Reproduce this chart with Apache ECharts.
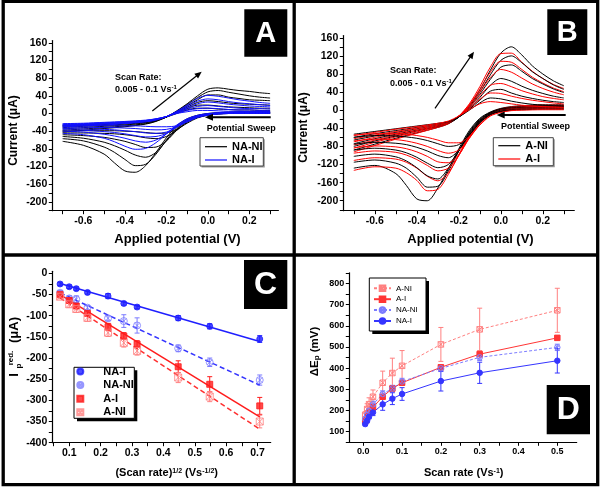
<!DOCTYPE html>
<html><head><meta charset="utf-8">
<script src="https://cdn.jsdelivr.net/npm/echarts@6.0.0/dist/echarts.min.js"></script>
<style>html,body{margin:0;padding:0;background:#fff}#c{width:602px;height:489px}</style>
</head><body><div id="c"></div>
<script>
// ---------- DATA ----------
// CV potentials (V): anodic (upper) branch and cathodic (lower) branch
const potUp   = [-0.7,-0.6,-0.5,-0.4,-0.3,-0.25,-0.2,-0.15,-0.1,-0.05,0,0.05,0.1,0.15,0.2,0.25,0.3];
const potDown = [0.3,0.2,0.1,0.05,0,-0.05,-0.1,-0.15,-0.2,-0.25,-0.3,-0.35,-0.4,-0.45,-0.5,-0.6,-0.7];

// Panel A : NA-NI (black)
const A_NANI_up = [
 [-42,-38,-34,-30,-24,-18,-8,6,22,40,55,58,55,52,50,47,45],
 [-38,-35,-32,-28,-23,-17,-8,5,20,36,49,52,48,44,40,37,35],
 [-35,-32,-29,-26,-21,-16,-8,4,17,31,42,42,37,34,31,30,29],
 [-32,-29,-27,-24,-20,-15,-8,3,14,25,29,27,24,22,21,20,19],
 [-29,-27,-25,-22,-19,-15,-8,2,11,19,19,17,15,14,13,12,12],
 [-27,-25,-23,-21,-18,-14,-8,0,8,12,12,10,9,8,8,7,7]];
const A_NANI_down = [
 [4,4,3,2,0,-4,-12,-28,-55,-88,-118,-133,-130,-112,-92,-72,-63],
 [3,3,2,1,-1,-5,-14,-32,-60,-92,-115,-118,-104,-88,-76,-62,-57],
 [2,2,2,0,-2,-6,-16,-35,-62,-88,-99,-94,-83,-73,-65,-56,-52],
 [1,1,1,0,-3,-8,-18,-38,-62,-76,-77,-70,-63,-58,-54,-50,-48],
 [1,1,0,-1,-3,-9,-20,-38,-52,-57,-55,-51,-48,-46,-45,-44,-44],
 [0,0,0,-1,-4,-10,-22,-36,-44,-45,-43,-41,-40,-39,-39,-39,-40]];
// Panel A : NA-I (blue)
const A_NAI_up = [
 [-30,-28,-26,-23,-19,-15,-7,5,19,34,41,39,35,31,28,25,23],
 [-28,-26,-24,-22,-18,-14,-7,4,16,28,33,31,27,24,22,20,18],
 [-26,-25,-23,-21,-17,-13,-7,3,13,22,26,24,21,19,17,16,15],
 [-25,-24,-22,-20,-16,-13,-7,2,10,16,18,16,14,12,11,11,10],
 [-24,-23,-21,-19,-16,-12,-7,1,7,11,12,11,9,8,8,7,7],
 [-23,-22,-20,-18,-15,-12,-7,0,4,7,7,6,5,5,4,4,4]];
const A_NAI_down = [
 [4,4,3,2,0,-4,-12,-26,-46,-66,-79,-81,-74,-64,-56,-48,-45],
 [3,3,2,1,-1,-5,-13,-28,-46,-60,-65,-62,-56,-51,-47,-42,-40],
 [2,2,2,0,-2,-6,-15,-30,-45,-52,-53,-50,-46,-43,-41,-38,-37],
 [1,1,1,0,-3,-7,-17,-31,-42,-45,-44,-41,-39,-37,-36,-35,-34],
 [1,1,0,-1,-3,-8,-18,-30,-36,-37,-36,-34,-33,-32,-32,-31,-31],
 [0,0,0,-1,-4,-9,-19,-28,-30,-30,-29,-28,-28,-28,-28,-28,-28]];
// Panel B : A-NI (black)
const B_ANI_up = [
 [-88,-75,-62,-50,-38,-30,-15,10,45,88,126,140,122,98,80,65,54],
 [-80,-68,-57,-46,-36,-29,-15,8,40,78,110,120,105,85,70,56,46],
 [-74,-63,-53,-44,-35,-28,-15,6,35,68,95,100,86,70,58,47,39],
 [-66,-57,-49,-41,-33,-27,-15,4,28,55,70,64,53,44,37,31,27],
 [-60,-52,-45,-38,-31,-26,-15,2,22,42,46,38,31,26,22,19,17],
 [-53,-47,-41,-35,-29,-25,-15,0,16,27,25,20,16,13,11,10,9]];
const B_ANI_down = [
 [12,12,10,8,4,-4,-18,-45,-85,-130,-172,-200,-196,-166,-140,-122,-128],
 [10,10,8,6,3,-5,-20,-48,-90,-135,-168,-170,-148,-128,-117,-110,-115],
 [8,8,6,5,2,-6,-22,-50,-90,-128,-152,-145,-127,-112,-103,-97,-102],
 [6,6,5,3,0,-7,-24,-52,-90,-120,-127,-117,-104,-94,-88,-84,-88],
 [4,4,3,1,-2,-9,-26,-55,-88,-105,-100,-90,-82,-76,-73,-71,-75],
 [2,2,1,0,-3,-10,-28,-55,-76,-80,-74,-67,-62,-59,-57,-56,-60]];
// Panel B : A-I (red)
const B_AI_up = [
 [-92,-78,-64,-51,-38,-30,-13,14,52,95,125,126,106,86,70,57,48],
 [-84,-71,-59,-48,-36,-29,-13,12,46,84,108,106,90,73,60,49,41],
 [-77,-66,-55,-45,-35,-28,-13,10,40,72,90,84,71,58,48,40,34],
 [-70,-60,-51,-42,-33,-27,-13,7,32,55,59,52,43,36,30,26,23],
 [-63,-55,-47,-39,-31,-26,-13,4,24,38,37,31,26,22,19,16,14],
 [-56,-49,-42,-36,-29,-24,-13,1,14,19,17,14,11,9,8,7,6]];
const B_AI_down = [
 [11,11,9,7,3,-6,-24,-55,-98,-142,-175,-178,-155,-138,-128,-125,-133],
 [9,9,7,5,1,-8,-26,-58,-100,-138,-156,-146,-128,-115,-108,-105,-111],
 [7,7,5,3,0,-9,-28,-60,-100,-128,-134,-122,-109,-99,-93,-90,-95],
 [5,5,4,2,-2,-10,-30,-62,-98,-116,-114,-102,-92,-85,-81,-79,-83],
 [3,3,2,0,-4,-12,-32,-62,-88,-95,-89,-80,-73,-68,-65,-64,-68],
 [1,1,0,-1,-5,-13,-33,-58,-72,-72,-66,-60,-56,-53,-52,-52,-55]];

// Panel C : peak reduction current vs (scan rate)^1/2
const sqrtRate = [0.0707,0.1,0.1225,0.1581,0.2236,0.2739,0.3162,0.4472,0.5477,0.7071];
const C_NAI   = [-25,-31.5,-36,-45,-53.5,-71,-79.5,-105.5,-125,-155];
const C_NAI_err = [4,4,4,4,6,4,4,6,6,8];
const C_NANI  = [-45.7,-59,-61,-81,-106,-112.6,-123,-177,-210,-252];
const C_NANI_err = [5,6,8,5,6,15,18,8,10,12];
const C_AI    = [-49.6,-64,-77,-94.5,-126,-148,-167,-220.5,-262,-313];
const C_AI_err = [4,5,6,6,8,8,8,14,18,20];
const C_ANI   = [-55,-73,-84,-105,-140,-164,-183,-246,-291,-350];
const C_ANI_err = [5,7,8,8,9,10,10,12,12,15];
// linear fit end points (at first and last x)
const fitX = [0.0707, 0.7071];
const fit_NAI = [-24,-161];
const fit_NANI = [-46,-264];
const fit_AI = [-50,-339];
const fit_ANI = [-58,-368];

// Panel D : peak separation vs scan rate
const scanRate = [0.005,0.01,0.015,0.025,0.05,0.075,0.1,0.2,0.3,0.5];
const D_ANI  = [179,207,230,265,331,377,411,512,583,673];
const D_ANI_err = [15,25,30,32,55,70,72,80,100,104];
const D_AI   = [150,171,190,215,265,304,331,404,466,543];
const D_AI_err = [8,8,8,10,10,10,10,10,10,10];
const D_NANI = [160,179,199,229,278,304,337,399,451,498];
const D_NANI_err = [10,12,12,15,15,15,15,15,15,15];
const D_NAI  = [136,152,171,191,229,256,278,339,378,435];
const D_NAI_err = [8,10,10,15,28,28,30,47,50,58];

// tick values
const cvXLabels = [-0.6,-0.4,-0.2,0.0,0.2];
const cvXTicks = [-0.7,-0.6,-0.5,-0.4,-0.3,-0.2,-0.1,0.0,0.1,0.2,0.3];
const cvYLabels = [-200,-160,-120,-80,-40,0,40,80,120,160];
const cvYTicks = [-220,-200,-180,-160,-140,-120,-100,-80,-60,-40,-20,0,20,40,60,80,100,120,140,160];
const cXLabels = [0.1,0.2,0.3,0.4,0.5,0.6,0.7];
const cXTicks = [0.05,0.1,0.15,0.2,0.25,0.3,0.35,0.4,0.45,0.5,0.55,0.6,0.65,0.7];
const cYLabels = [-400,-350,-300,-250,-200,-150,-100,-50,0];
const cYTicks = [-400,-375,-350,-325,-300,-275,-250,-225,-200,-175,-150,-125,-100,-75,-50,-25,0];
const dXLabels = [0.0,0.1,0.2,0.3,0.4,0.5];
const dXTicks = [0.0,0.05,0.1,0.15,0.2,0.25,0.3,0.35,0.4,0.45,0.5];
const dYLabels = [100,200,300,400,500,600,700,800];
const dYTicks = [50,100,150,200,250,300,350,400,450,500,550,600,650,700,750,800,850];

// ---------- CHART ----------
const FONT = '"Liberation Sans", Arial, sans-serif';
const BLUE = '#1f1fff', LBLUE = '#7c7cff', RED = '#ff1c1c', LRED = '#ff8080';
const SYM_CX = 'path://M0,5 A5,5 0 1,1 10,5 A5,5 0 1,1 0,5 Z M1.5,1.5 L8.5,8.5 M8.5,1.5 L1.5,8.5';
const SYM_SX = 'path://M0,0 L10,0 L10,10 L0,10 Z M0,0 L10,10 M10,0 L0,10';

function axis(gi, min, max, labels, ticks, fmt, fs) {
  return {
    type: 'value', gridIndex: gi, min: min, max: max,
    axisLine: {show: true, onZero: false, lineStyle: {color: '#000', width: 1.2}},
    axisTick: {show: true, customValues: ticks, length: 3.5, lineStyle: {color: '#000', width: 1}},
    axisLabel: {customValues: labels, formatter: fmt, fontSize: fs, fontWeight: 'bold',
                color: '#000', fontFamily: FONT, margin: 5},
    splitLine: {show: false}
  };
}
const f1 = v => Number(v).toFixed(1);
const f0 = v => String(Math.round(v));

const series = [];
function cv(name, color, xs, set, gi) {
  set.forEach(ys => series.push({
    type: 'line', name: name, xAxisIndex: gi, yAxisIndex: gi,
    data: xs.map((x, i) => [x, ys[i]]), symbol: 'none', smooth: 0.3,
    lineStyle: {color: color, width: 1}, itemStyle: {color: color},
    silent: true, animation: false, z: 2
  }));
}
cv('A:NA-NI', '#000', potUp, A_NANI_up, 0);
cv('A:NA-NI', '#000', potDown, A_NANI_down, 0);
cv('A:NA-I', '#1010ff', potUp, A_NAI_up, 0);
cv('A:NA-I', '#1010ff', potDown, A_NAI_down, 0);
for (let i = 0; i < B_ANI_up.length; i++) {
  cv('B:A-NI', '#000', potUp, [B_ANI_up[i]], 1);
  cv('B:A-NI', '#000', potDown, [B_ANI_down[i]], 1);
  cv('B:A-I', '#ff0000', potUp, [B_AI_up[i]], 1);
  cv('B:A-I', '#ff0000', potDown, [B_AI_down[i]], 1);
}

function errBars(xs, ys, es, color, gi, cap) {
  series.push({
    type: 'custom', xAxisIndex: gi, yAxisIndex: gi, silent: true, animation: false, z: 3,
    encode: {x: 0, y: 1},
    data: xs.map((x, i) => [x, ys[i], es[i]]),
    renderItem: function (params, api) {
      const x = api.value(0), y = api.value(1), e = api.value(2);
      const t = api.coord([x, y + e]), b = api.coord([x, y - e]);
      const st = {stroke: color, lineWidth: 1};
      return {type: 'group', children: [
        {type: 'line', shape: {x1: t[0], y1: t[1], x2: b[0], y2: b[1]}, style: st},
        {type: 'line', shape: {x1: t[0] - cap, y1: t[1], x2: t[0] + cap, y2: t[1]}, style: st},
        {type: 'line', shape: {x1: b[0] - cap, y1: b[1], x2: b[0] + cap, y2: b[1]}, style: st}
      ]};
    }
  });
}
function pts(name, xs, ys, symbol, size, fill, stroke, gi) {
  series.push({
    type: 'scatter', name: name, xAxisIndex: gi, yAxisIndex: gi, symbol: symbol, symbolSize: size,
    data: xs.map((x, i) => [x, ys[i]]),
    itemStyle: {color: fill, borderColor: stroke, borderWidth: 1}, silent: true, animation: false, z: 5
  });
}
function fit(xs, ys, color, type, gi) {
  series.push({
    type: 'line', name: 'fit', xAxisIndex: gi, yAxisIndex: gi, symbol: 'none',
    data: xs.map((x, i) => [x, ys[i]]),
    lineStyle: {color: color, width: 1.5, type: type}, silent: true, animation: false, z: 4
  });
}
// Panel C
fit(fitX, fit_NAI, BLUE, 'solid', 2);
fit(fitX, fit_NANI, '#3535ff', [5, 3], 2);
fit(fitX, fit_AI, RED, 'solid', 2);
fit(fitX, fit_ANI, '#ff3030', [5, 3], 2);
errBars(sqrtRate, C_NAI, C_NAI_err, BLUE, 2, 2.5);
errBars(sqrtRate, C_NANI, C_NANI_err, LBLUE, 2, 2.5);
errBars(sqrtRate, C_AI, C_AI_err, RED, 2, 2.5);
errBars(sqrtRate, C_ANI, C_ANI_err, LRED, 2, 2.5);
pts('C:NA-I', sqrtRate, C_NAI, 'circle', 6, BLUE, BLUE, 2);
pts('C:NA-NI', sqrtRate, C_NANI, SYM_CX, 7, 'rgba(255,255,255,0)', LBLUE, 2);
pts('C:A-I', sqrtRate, C_AI, 'rect', 6, RED, RED, 2);
pts('C:A-NI', sqrtRate, C_ANI, SYM_SX, 7, 'rgba(255,255,255,0)', LRED, 2);

// Panel D
function dline(name, ys, es, color, dash, symbol, fill, gi) {
  errBars(scanRate, ys, es, color, gi, 2.5);
  series.push({
    type: 'line', name: name, xAxisIndex: gi, yAxisIndex: gi,
    data: scanRate.map((x, i) => [x, ys[i]]), symbol: symbol, symbolSize: 5.5, showSymbol: true,
    lineStyle: {color: color, width: 1, type: dash},
    itemStyle: {color: fill, borderColor: color, borderWidth: 1},
    silent: true, animation: false, z: 5
  });
}
dline('D:A-NI', D_ANI, D_ANI_err, LRED, [3, 2], SYM_SX, 'rgba(255,255,255,0)', 3);
dline('D:A-I', D_AI, D_AI_err, '#ff3535', 'solid', 'rect', '#ff3535', 3);
dline('D:NA-NI', D_NANI, D_NANI_err, LBLUE, [3, 2], SYM_CX, 'rgba(255,255,255,0)', 3);
dline('D:NA-I', D_NAI, D_NAI_err, '#3535ff', 'solid', 'circle', '#3535ff', 3);

const strip = n => n.slice(2);
function legend(names, left, top, opts) {
  return Object.assign({
    data: names, formatter: strip, orient: 'vertical', align: 'left', left: left, top: top,
    selectedMode: false, backgroundColor: 'transparent', borderWidth: 0, z: 30
  }, opts);
}

// graphics (frame, panel tags, annotations, axis titles, legend boxes)
const G = [];
function txt(x, y, text, size, weight, extra) {
  G.push(Object.assign({type: 'text', x: x, y: y, silent: true, z: 40, style: Object.assign({
    text: text, fill: '#000', fontSize: size, fontWeight: weight, fontFamily: FONT,
    align: 'left', verticalAlign: 'middle', textAlign: 'left', textVerticalAlign: 'middle'}, extra && extra.style || {})},
    extra && extra.el || {}));
}
function tag(x, y, w, h, letter, size) {
  G.push({type: 'rect', shape: {x: x, y: y, width: w, height: h}, style: {fill: '#000'}, silent: true, z: 35});
  txt(x + w / 2, y + h / 2 + 1, letter, size, 'bold', {style: {fill: '#fff', align: 'center', textAlign: 'center'}});
}
function box(x, y, w, h, stroke, shadow, off) {
  G.push({type: 'rect', shape: {x: x + off, y: y + off, width: w, height: h}, style: {fill: shadow}, silent: true, z: 20});
  G.push({type: 'rect', shape: {x: x, y: y, width: w, height: h}, style: {fill: '#fff', stroke: stroke, lineWidth: 1}, silent: true, z: 21});
}
function arrow(x1, y1, x2, y2, w, hl, hw) {
  const L = Math.hypot(x2 - x1, y2 - y1), ux = (x2 - x1) / L, uy = (y2 - y1) / L;
  const bx = x2 - ux * hl, by = y2 - uy * hl;
  G.push({type: 'line', shape: {x1: x1, y1: y1, x2: bx + ux, y2: by + uy}, style: {stroke: '#000', lineWidth: w}, silent: true, z: 40});
  G.push({type: 'polygon', shape: {points: [[x2, y2], [bx - uy * hw, by + ux * hw], [bx + uy * hw, by - ux * hw]]}, style: {fill: '#000'}, silent: true, z: 40});
}
const richSup = (size) => ({n: {fontSize: size, fontWeight: 'bold', fontFamily: FONT, fill: '#000', verticalAlign: 'bottom'},
  s: {fontSize: Math.round(size * 0.62), fontWeight: 'bold', fontFamily: FONT, fill: '#000', verticalAlign: 'top'}});

// legend boxes
box(200, 137.7, 63.3, 28.3, '#444', '#999', 1.5);
box(493.3, 137.7, 60, 28, '#444', '#999', 1.5);
box(74, 367.3, 60.3, 51, '#000', '#000', 3);
box(369.3, 278, 56.7, 53, '#000', '#000', 3);

// panel tags
tag(244.3, 9.3, 43, 47.4, 'A', 29);
tag(547.3, 9.3, 40, 45.7, 'B', 29);
tag(244, 260, 43.3, 49, 'C', 32);
tag(546.7, 385, 43.3, 49.3, 'D', 32);

// annotations
txt(115, 77.7, 'Scan Rate:', 9, 'bold');
txt(115, 89.3, '{n|0.005 - 0.1 Vs}{s|-1}', 9, 'bold', {style: {rich: richSup(9)}});
txt(206.7, 128.7, 'Potential Sweep', 9, 'bold');
arrow(152.3, 111, 201.7, 71.7, 1.2, 7, 3);
arrow(270.7, 117.3, 205, 117.3, 2, 8, 3.5);
txt(390, 71, 'Scan Rate:', 9, 'bold');
txt(390, 83.3, '{n|0.005 - 0.1 Vs}{s|-1}', 9, 'bold', {style: {rich: richSup(9)}});
txt(501, 126.7, 'Potential Sweep', 9, 'bold');
arrow(435, 108.3, 474, 51.7, 1.2, 7, 3);
arrow(565.7, 115, 496.7, 115, 2, 8, 3.5);

// axis titles
const C_ = {align: 'center', textAlign: 'center'};
txt(177.5, 239, 'Applied potential (V)', 13, 'bold', {style: C_});
txt(470.5, 239, 'Applied potential (V)', 13, 'bold', {style: C_});
txt(14, 130.5, 'Current (\u03bcA)', 12, 'bold', {style: C_, el: {rotation: Math.PI / 2}});
txt(303.5, 127.5, 'Current (\u03bcA)', 12, 'bold', {style: C_, el: {rotation: Math.PI / 2}});
txt(166.7, 472.7, '{n|(Scan rate)}{s|1/2}{n| (Vs}{s|-1/2}{n|)}', 11, 'bold', {style: Object.assign({rich: richSup(11)}, C_)});
txt(463.7, 472.7, '{n|Scan rate (Vs}{s|-1}{n|)}', 11, 'bold', {style: Object.assign({rich: richSup(11)}, C_)});
// C y title: I_p^red. (μA)
txt(14.5, 375, 'I', 13, 'bold', {style: C_, el: {rotation: Math.PI / 2}});
txt(18.5, 366, 'p', 8, 'bold', {style: C_, el: {rotation: Math.PI / 2}});
txt(10.5, 358, 'red.', 8, 'bold', {style: C_, el: {rotation: Math.PI / 2}});
txt(14.5, 330, '(\u03bcA)', 13, 'bold', {style: C_, el: {rotation: Math.PI / 2}});
// D y title: ΔE_p (mV)
txt(315, 351.5, '{n|\u0394E}{b|p}{n| (mV)}', 11.5, 'bold', {style: Object.assign({rich: {
  n: {fontSize: 11.5, fontWeight: 'bold', fontFamily: FONT, fill: '#000', verticalAlign: 'top'},
  b: {fontSize: 8, fontWeight: 'bold', fontFamily: FONT, fill: '#000', verticalAlign: 'bottom'}}}, C_), el: {rotation: Math.PI / 2}});

// frame
G.push({type: 'rect', shape: {x: 3.2, y: 1.3, width: 594.5, height: 483.4}, style: {fill: 'none', stroke: '#000', lineWidth: 3.3}, silent: true, z: 100});
G.push({type: 'line', shape: {x1: 294.2, y1: 1, x2: 294.2, y2: 485}, style: {stroke: '#000', lineWidth: 3.3}, silent: true, z: 100});
G.push({type: 'line', shape: {x1: 3, y1: 255, x2: 598, y2: 255}, style: {stroke: '#000', lineWidth: 3.3}, silent: true, z: 100});

const lineIcon = 'rect';
const option = {
  animation: false,
  backgroundColor: '#fff',
  grid: [
    {left: 52.3, top: 40.6, width: 226.1, height: 170.1},
    {left: 343.3, top: 35.5, width: 231, height: 175.2},
    {left: 52.3, top: 271.3, width: 218.4, height: 171.4},
    {left: 349.3, top: 272.8, width: 227.4, height: 169.5}
  ],
  xAxis: [
    axis(0, -0.75, 0.34, cvXLabels, cvXTicks, f1, 10.5),
    axis(1, -0.75, 0.35, cvXLabels, cvXTicks, f1, 10.5),
    axis(2, 0.046, 0.742, cXLabels, cXTicks, f1, 10.5),
    axis(3, -0.036, 0.55, dXLabels, dXTicks, f1, 9)
  ],
  yAxis: [
    axis(0, -220, 165, cvYLabels, cvYTicks, f0, 10.5),
    axis(1, -222, 165, cvYLabels, cvYTicks, f0, 10.5),
    axis(2, -400, 5, cYLabels, cYTicks, f0, 10.5),
    axis(3, 50, 850, dYLabels, dYTicks, f0, 9)
  ],
  legend: [
    legend(['A:NA-NI', 'A:NA-I'], 200, 137.7, {icon: lineIcon, itemWidth: 22, itemHeight: 1.2, itemGap: 2.3, padding: [3.5, 1, 0.5, 5],
      textStyle: {fontFamily: FONT, fontWeight: 'bold', fontSize: 11, color: '#000', lineHeight: 11}}),
    legend(['B:A-NI', 'B:A-I'], 493.3, 137.7, {icon: lineIcon, itemWidth: 22, itemHeight: 1.2, itemGap: 2.3, padding: [2.5, 6, 1.5, 5],
      textStyle: {fontFamily: FONT, fontWeight: 'bold', fontSize: 11, color: '#000', lineHeight: 11}}),
    legend(['C:NA-I', 'C:NA-NI', 'C:A-I', 'C:A-NI'], 74, 366, {itemWidth: 6, itemHeight: 6, itemGap: 2.6, padding: [0, 1, 0, 2.3],
      textStyle: {fontFamily: FONT, fontWeight: 'bold', fontSize: 11, color: '#000', lineHeight: 10, padding: [0, 0, 0, 15]}}),
    legend(['D:A-NI', 'D:A-I', 'D:NA-NI', 'D:NA-I'], 369.3, 278, {itemWidth: 17, itemHeight: 7, itemGap: 1.9, padding: [5.8, 9, 5.5, 3.7],
      textStyle: {fontFamily: FONT, fontWeight: 'normal', fontSize: 8, color: '#000', lineHeight: 9}})
  ],
  graphic: {elements: G},
  series: series
};
const chart = echarts.init(document.getElementById('c'), null, {renderer: 'canvas'});
chart.setOption(option);
</script></body></html>
